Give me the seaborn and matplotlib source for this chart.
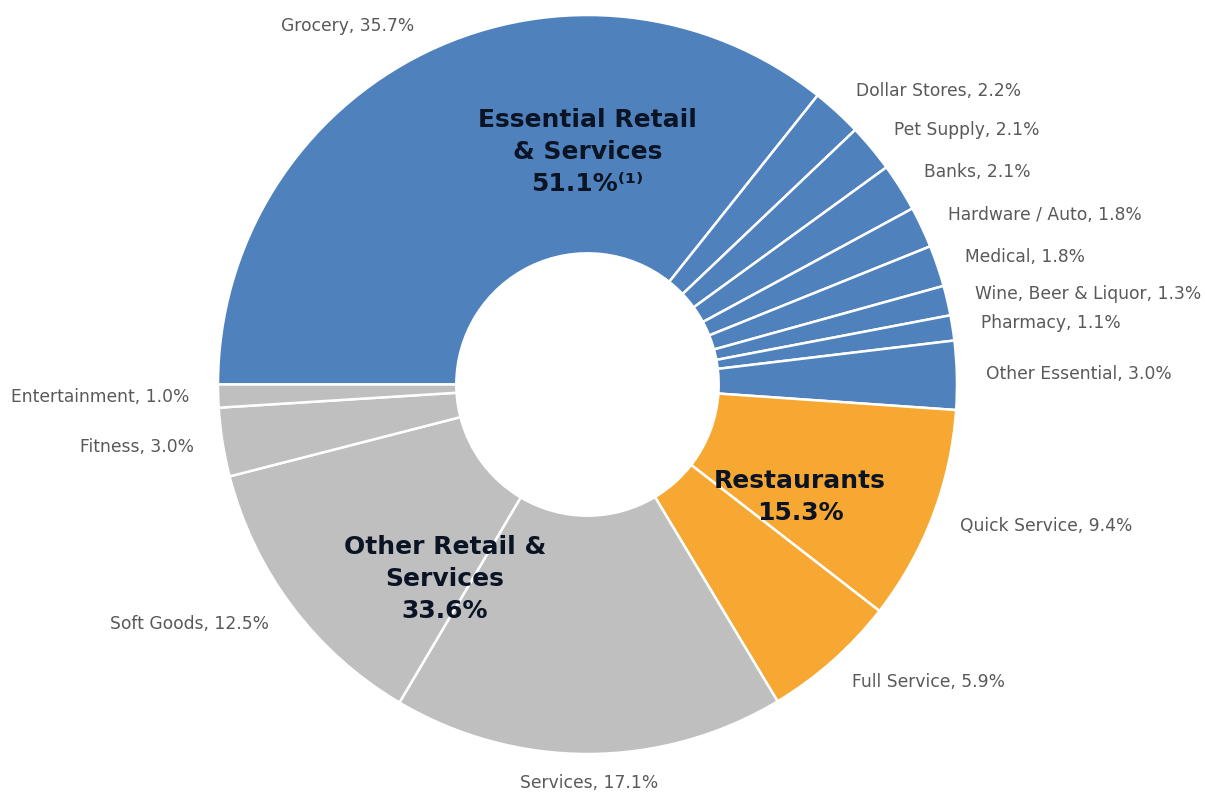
import matplotlib
matplotlib.use("Agg")
import matplotlib.pyplot as plt
import seaborn as sns

# tenant mix by share of annual base rent
categories = ["Grocery", "Dollar Stores", "Pet Supply", "Banks", "Hardware / Auto",
              "Medical", "Wine, Beer & Liquor", "Pharmacy", "Other Essential",
              "Quick Service", "Full Service",
              "Services", "Soft Goods", "Fitness", "Entertainment"]
shares = [35.7, 2.2, 2.1, 2.1, 1.8, 1.8, 1.3, 1.1, 3.0,
          9.4, 5.9,
          17.1, 12.5, 3.0, 1.0]
groups = ["Essential"] * 9 + ["Restaurants"] * 2 + ["Other"] * 4

group_names = ["Essential", "Restaurants", "Other"]
group_titles = ["Essential Retail\n& Services\n51.1%\u207d\u00b9\u207e",
                "Restaurants\n15.3%",
                "Other Retail &\nServices\n33.6%"]
group_colors = {"Essential": "#4F81BD", "Restaurants": "#F7A833", "Other": "#BFBFBF"}

sns.set_theme(style="white")
plt.rcParams['font.family'] = ['DejaVu Sans']

fig = plt.figure(figsize=(12.05, 7.94), dpi=100)
ax = fig.add_axes([218 / 1205, 40 / 794, 739 / 1205, 739 / 794])

labels = [f"{c}, {v:.1f}%" for c, v in zip(categories, shares)]
wedges, texts = ax.pie(
    shares,
    labels=labels,
    colors=[group_colors[g] for g in groups],
    startangle=180,
    counterclock=False,
    labeldistance=1.078,
    wedgeprops=dict(width=0.645, edgecolor="white", linewidth=1.8),
    textprops=dict(fontsize=12.3, color="#595959"),
)

# label sitting right under the ring is centred
for t in texts:
    if abs(t.get_position()[0]) < 0.05:
        t.set_ha("center")

ax.set_xlim(-1, 1)
ax.set_ylim(-1, 1)

# group titles inside the ring
title_pos = {"Essential": (0.0, 0.629), "Restaurants": (0.575, -0.305), "Other": (-0.386, -0.526)}
for name, title in zip(group_names, group_titles):
    x, y = title_pos[name]
    ax.text(x, y, title, ha="center", va="center", fontsize=18, fontweight="bold",
            color="#0b1424", linespacing=1.42)

fig.savefig("out.png", dpi=100)
